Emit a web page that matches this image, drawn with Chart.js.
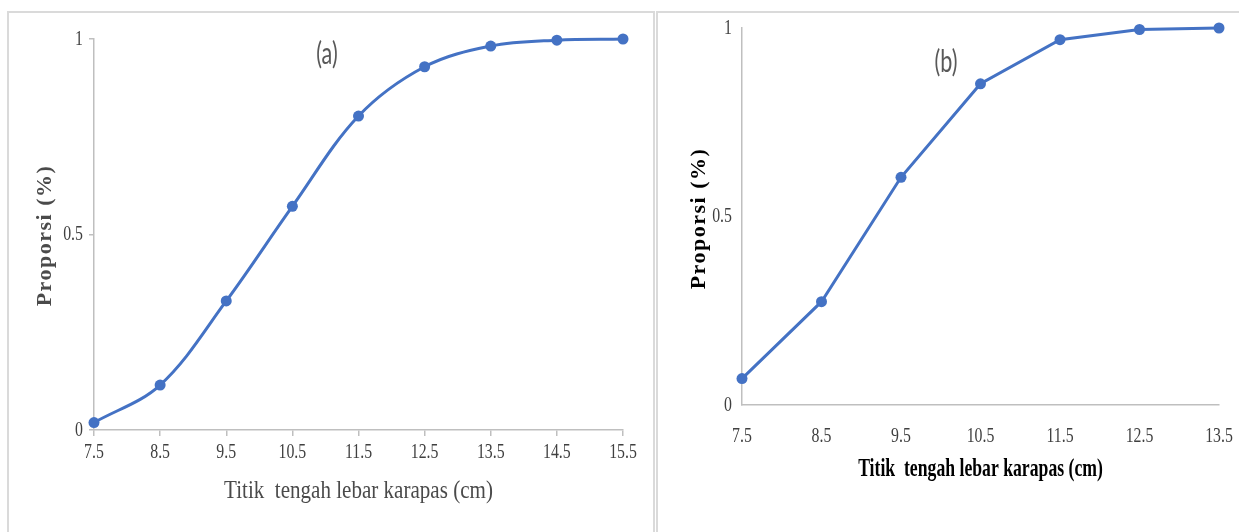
<!DOCTYPE html>
<html>
<head>
<meta charset="utf-8">
<script src="https://cdn.jsdelivr.net/npm/chart.js@4.4.0/dist/chart.umd.min.js"></script>
<style>
  body { margin: 0; width: 1239px; height: 532px; background: #fff; position: relative; overflow: hidden; }
  .panel { position: absolute; border: 2px solid #dadada; box-sizing: border-box; }
  #pa { left: 7px; top: 11px; width: 648px; height: 540px; }
  #pb { left: 656px; top: 11px; width: 600px; height: 540px; }
  canvas { position: absolute; top: 0; }
  #ca { left: 0; }
  #cb { left: 655px; }
  .tag { position: absolute; font-family: Lato, "Open Sans", sans-serif; color: #595959; font-size: 30px; line-height: 36px; transform: scaleX(0.72); }
</style>
</head>
<body>
<div class="panel" id="pa"></div>
<div class="panel" id="pb"></div>
<canvas id="ca" width="655" height="532"></canvas>
<canvas id="cb" width="584" height="532"></canvas>
<div class="tag" style="left:312px; top:34px;">(a)</div>
<div class="tag" style="left:930px; top:42px;">(b)</div>
<script>
// data
const sizesA = ["7.5", "8.5", "9.5", "10.5", "11.5", "12.5", "13.5", "14.5", "15.5"];
const propA = [0.019, 0.115, 0.330, 0.572, 0.803, 0.929, 0.982, 0.997, 1.0];
const sizesB = ["7.5", "8.5", "9.5", "10.5", "11.5", "12.5", "13.5"];
const propB = [0.070, 0.274, 0.604, 0.852, 0.969, 0.996, 1.0];
const xTitle = "Titik  tengah lebar karapas (cm)";
const yTitle = "Proporsi (%)";

const BLUE = "#4472c4";
const AXIS = "#bfbfbf";

function drawText(ctx, str, x, y, font, color, sx, align, rotate, spacing) {
  ctx.save();
  ctx.translate(x, y);
  if (rotate) {
    ctx.rotate(-Math.PI / 2);
    ctx.scale(1, sx);
  } else {
    ctx.scale(sx, 1);
  }
  ctx.font = font;
  ctx.fillStyle = color;
  ctx.textAlign = align || "center";
  ctx.textBaseline = "middle";
  if (spacing) ctx.letterSpacing = spacing + "px";
  ctx.fillText(str, 0, 0);
  ctx.restore();
}

// tick labels and axis titles, placed from the chart's own scales
const textPlugin = {
  id: "texts",
  afterDraw(chart, args, o) {
    const ctx = chart.ctx;
    const xs = chart.scales.x, ys = chart.scales.y, a = chart.chartArea;
    xs.ticks.forEach((t, i) => {
      drawText(ctx, xs.getLabelForValue(t.value), xs.getPixelForTick(i), a.bottom + o.xTickGap, o.tickFont, o.tickColor, o.tickSx);
    });
    ys.ticks.forEach((t) => {
      drawText(ctx, String(t.value), a.left - o.yTickGap, ys.getPixelForValue(t.value), o.tickFont, o.tickColor, o.tickSx, "right");
    });
    drawText(ctx, xTitle, (a.left + a.right) / 2, a.bottom + o.xTitleGap, o.xTitleFont, o.titleColor, o.xTitleSx);
    drawText(ctx, yTitle, o.yTitleX, (a.top + a.bottom) / 2 + o.yTitleShift, o.yTitleFont, o.titleColor, 0.95, "center", true, o.spacing);
  }
};

function makeChart(id, labels, values, cfg) {
  return new Chart(document.getElementById(id), {
    type: "line",
    data: {
      labels: labels,
      datasets: [{
        data: values,
        borderColor: BLUE,
        backgroundColor: BLUE,
        borderWidth: 3,
        pointRadius: 5.5,
        pointBorderWidth: 0,
        tension: cfg.tension,
        clip: false
      }]
    },
    options: {
      responsive: false,
      animation: false,
      events: [],
      layout: { padding: cfg.padding },
      plugins: {
        legend: { display: false },
        tooltip: { enabled: false },
        texts: cfg.texts
      },
      scales: {
        x: {
          type: "category",
          offset: false,
          ticks: { display: false, autoSkip: false },
          grid: { drawOnChartArea: false, drawTicks: cfg.xTicks, tickLength: 6, color: AXIS, lineWidth: 1.5 },
          border: { color: AXIS, width: 1.5 },
          afterFit: (s) => { s.height = 10; }
        },
        y: {
          min: 0,
          max: 1,
          ticks: { display: false, stepSize: 0.5 },
          grid: { drawOnChartArea: false, drawTicks: cfg.yTicks, tickLength: 5, color: AXIS, lineWidth: 1.5 },
          border: { color: AXIS, width: 1.5 },
          afterFit: (s) => { s.width = 10; }
        }
      }
    },
    plugins: [textPlugin]
  });
}

makeChart("ca", sizesA, propA, {
  tension: 0.35,
  xTicks: true,
  yTicks: true,
  padding: { left: 84, right: 32, top: 39, bottom: 92 },
  texts: {
    tickFont: "22px 'Liberation Serif'", tickColor: "#404040", tickSx: 0.72,
    xTickGap: 22, yTickGap: 11,
    xTitleFont: "26px 'Liberation Serif'", xTitleSx: 0.81, xTitleGap: 61,
    yTitleFont: "bold 22px 'Liberation Serif'", yTitleX: 46, yTitleShift: 1, spacing: 1.5,
    titleColor: "#4a4a4a"
  }
});

makeChart("cb", sizesB, propB, {
  tension: 0,
  xTicks: false,
  yTicks: false,
  padding: { left: 77, right: 20, top: 28, bottom: 117 },
  texts: {
    tickFont: "22px 'Liberation Serif'", tickColor: "#404040", tickSx: 0.72,
    xTickGap: 31, yTickGap: 10,
    xTitleFont: "bold 26px 'Liberation Serif'", xTitleSx: 0.68, xTitleGap: 64,
    yTitleFont: "bold 22px 'Liberation Serif'", yTitleX: 45, yTitleShift: 2, spacing: 1.5,
    titleColor: "#000000"
  }
});
</script>
</body>
</html>
